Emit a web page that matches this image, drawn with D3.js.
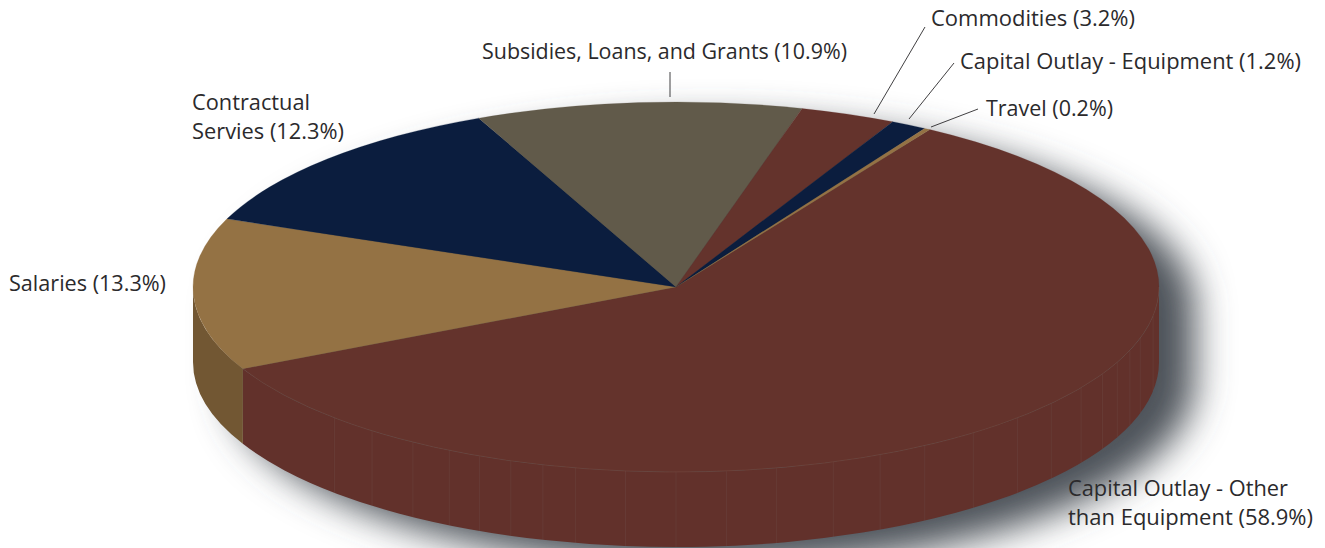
<!DOCTYPE html>
<html>
<head>
<meta charset="utf-8">
<script src="https://cdn.jsdelivr.net/npm/d3@7"></script>
<style>
    html, body { margin: 0; padding: 0; background: #fff; overflow: hidden; }
    text { font-family: "Open Sans", sans-serif; font-size: 21.6px; fill: #2b2a2c; }
    .leader { stroke: #2b2a2c; stroke-width: 0.9; fill: none; }
</style>
</head>
<body>
<div class="mainview"></div>
<script>
const categories = ["Capital Outlay - Other than Equipment", "Salaries", "Contractual Servies", "Subsidies, Loans, and Grants", "Commodities", "Capital Outlay - Equipment", "Travel"];
const shares = [58.9, 13.3, 12.3, 10.9, 3.2, 1.2, 0.2];
const topColors = ["#64332c", "#947244", "#0b1d3e", "#615a4a", "#64332c", "#0b1d3e", "#947244"];
const sideColors = ["#62312b", "#725733", "#0b1d3e", "#615a4a", "#64332c", "#0b1d3e", "#725733"];

// faint seams on the side wall, degrees clockwise from 12 o'clock
const seams = [99, 106, 110, 114, 118, 123, 129, 135, 142, 149, 155, 161, 168, 174, 180, 186, 192, 196, 200, 204, 208, 213, 219, 225];

const labelLines = [
    ["Capital Outlay - Other", "than Equipment (58.9%)"],
    ["Salaries (13.3%)"],
    ["Contractual", "Servies (12.3%)"],
    ["Subsidies, Loans, and Grants (10.9%)"],
    ["Commodities (3.2%)"],
    ["Capital Outlay - Equipment (1.2%)"],
    ["Travel (0.2%)"]
];
// rendered widths of each line, the substitute font runs a bit off otherwise
const lineWidths = [[220, 245], [157], [118, 152], [365], [204], [341], [127]];

const dim = { width: 1325, height: 548 };
const pieDim = { cx: 676, cy: 287, rx: 483, ry: 185, depth: 75 };
const startDeg = 31.7;

const labelPos = [
    { x: 1068, y: 496 }, { x: 9, y: 291 }, { x: 192, y: 110 }, { x: 482, y: 59 },
    { x: 931, y: 26 }, { x: 960, y: 69 }, { x: 986, y: 116 }
];
const leaders = [
    [[670, 72], [670, 97]],
    [[925, 27], [874, 114]],
    [[954, 63], [909, 119]],
    [[978, 109], [931, 127]]
];

const rad = d => d * Math.PI / 180;
const px = a => pieDim.cx + pieDim.rx * Math.sin(a);
const py = a => pieDim.cy - pieDim.ry * Math.cos(a);

const svg = d3.select(".mainview").append("svg")
    .attr("width", dim.width)
    .attr("height", dim.height)
    .style("display", "block");

const blur = svg.append("defs").append("filter")
    .attr("id", "shadow-blur")
    .attr("filterUnits", "userSpaceOnUse")
    .attr("x", 0).attr("y", 0)
    .attr("width", dim.width).attr("height", dim.height + 100);
blur.append("feGaussianBlur").attr("stdDeviation", 18);

// shadow: outline of the whole drum, shifted and blurred
const { cx, cy, rx, ry, depth } = pieDim;
svg.append("path")
    .attr("d", `M${cx - rx},${cy} A${rx},${ry} 0 0 1 ${cx + rx},${cy} L${cx + rx},${cy + depth} A${rx},${ry} 0 0 1 ${cx - rx},${cy + depth} Z`)
    .attr("transform", "translate(36,20)")
    .attr("fill", "#4e525a")
    .attr("filter", "url(#shadow-blur)");

const slices = d3.pie().sort(null).value(d => d)
    .startAngle(rad(startDeg))
    .endAngle(rad(startDeg + 360))(shares);

// side wall, only the part facing the viewer (90..270 deg)
function wallPath(a0, a1) {
    return `M${px(a0)},${py(a0)} A${rx},${ry} 0 0 1 ${px(a1)},${py(a1)}`
        + ` L${px(a1)},${py(a1) + depth} A${rx},${ry} 0 0 0 ${px(a0)},${py(a0) + depth} Z`;
}

svg.append("g")
    .selectAll("path")
    .data(slices.filter(d => d.startAngle < rad(270) && d.endAngle > rad(90)))
    .join("path")
    .attr("fill", d => sideColors[d.index])
    .attr("d", d => wallPath(Math.max(d.startAngle, rad(90)), Math.min(d.endAngle, rad(270))));

svg.append("g")
    .selectAll("line")
    .data(seams)
    .join("line")
    .attr("x1", d => px(rad(d))).attr("x2", d => px(rad(d)))
    .attr("y1", d => py(rad(d))).attr("y2", d => py(rad(d)) + depth)
    .attr("stroke", "#8a8a86")
    .attr("stroke-opacity", 0.16)
    .attr("stroke-width", 0.7);

// top face: circular arcs squashed into an ellipse
const arc = d3.arc().innerRadius(0).outerRadius(rx);

svg.append("g")
    .attr("transform", `translate(${cx},${cy}) scale(1,${ry / rx})`)
    .selectAll("path")
    .data(slices)
    .join("path")
    .attr("fill", d => topColors[d.index])
    .attr("stroke", d => topColors[d.index])
    .attr("stroke-width", 0.3)
    .attr("d", arc);

// pale rim between top face and wall
const rimEnd = slices[0].endAngle;
svg.append("path")
    .attr("d", `M${px(rad(90))},${py(rad(90))} A${rx},${ry} 0 0 1 ${px(rimEnd)},${py(rimEnd)}`)
    .attr("fill", "none")
    .attr("stroke", "#a08a78")
    .attr("stroke-opacity", 0.25)
    .attr("stroke-width", 0.6);

svg.append("g")
    .selectAll("path")
    .data(leaders)
    .join("path")
    .attr("class", "leader")
    .attr("d", d3.line());

svg.append("g")
    .selectAll("text")
    .data(labelLines)
    .join("text")
    .attr("x", (d, i) => labelPos[i].x)
    .attr("y", (d, i) => labelPos[i].y)
    .each(function (lines, i) {
        d3.select(this).selectAll("tspan")
            .data(lines)
            .join("tspan")
            .attr("x", labelPos[i].x)
            .attr("dy", (l, j) => j ? 29 : 0)
            .attr("textLength", (l, j) => lineWidths[i][j])
            .attr("lengthAdjust", "spacingAndGlyphs")
            .text(l => l);
    });
</script>
</body>
</html>
